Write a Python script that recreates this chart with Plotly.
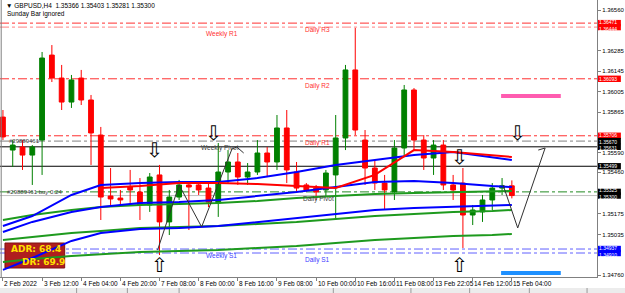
import plotly.graph_objects as go

# ---------------- data ----------------
bar_idx = list(range(53))
opens = [1.35833,1.35609,1.35630,1.35575,1.35677,1.36254,1.36098,1.35935,1.36098,1.35949,
         1.35711,1.35297,1.35283,1.35358,1.35324,1.35236,1.35440,1.35121,1.35290,1.35372,
         1.35372,1.35351,1.35250,1.35460,1.35528,1.35426,1.35460,1.35589,1.35528,1.35759,
         1.35460,1.35372,1.35351,1.35338,1.35440,1.35691,1.36153,1.35677,1.35487,1.35385,
         1.35324,1.35623,1.36017,1.35677,1.35555,1.35643,1.35372,1.35385,1.35168,1.35189,
         1.35270,1.35351,1.35366]
highs = [1.35881,1.35677,1.35677,1.35643,1.36275,1.36322,1.36187,1.36119,1.36153,1.35983,
         1.35766,1.35487,1.35338,1.35474,1.35419,1.35453,1.35508,1.35338,1.35406,1.35392,
         1.35385,1.35385,1.35657,1.35609,1.35589,1.35521,1.35677,1.35630,1.35847,1.35881,
         1.35528,1.35385,1.35372,1.35474,1.35847,1.36187,1.36438,1.35745,1.35541,1.35440,
         1.35677,1.36051,1.36030,1.35711,1.35677,1.35677,1.35440,1.35487,1.35236,1.35304,
         1.35385,1.35419,1.35403]
lows = [1.35677,1.35494,1.35474,1.35372,1.35440,1.36071,1.35881,1.35895,1.35915,1.35508,
        1.35134,1.35236,1.35236,1.35250,1.35134,1.35189,1.34896,1.35032,1.35270,1.35066,
        1.35304,1.35222,1.35155,1.35385,1.35372,1.35372,1.35440,1.35426,1.35474,1.35385,
        1.35324,1.35324,1.35270,1.35290,1.35134,1.35609,1.35711,1.35372,1.35338,1.35202,
        1.35270,1.35575,1.35609,1.35474,1.35440,1.35338,1.35270,1.34944,1.35100,1.35121,
        1.35202,1.35304,1.35281]
closes = [1.35698,1.35643,1.35575,1.35630,1.36234,1.36098,1.35935,1.36085,1.35949,1.35725,
          1.35290,1.35277,1.35270,1.35338,1.35236,1.35426,1.35121,1.35290,1.35372,1.35358,
          1.35338,1.35256,1.35460,1.35528,1.35426,1.35460,1.35589,1.35528,1.35759,1.35474,
          1.35351,1.35338,1.35324,1.35453,1.35691,1.36153,1.35745,1.35487,1.35385,1.35338,
          1.35623,1.36017,1.35677,1.35555,1.35643,1.35372,1.35338,1.35168,1.35202,1.35270,
          1.35351,1.35366,1.35300]

tick_idx = [0,4,8,12,16,20,24,28,32,36,40,44,48,52]
tick_text = ["2 Feb 2022","3 Feb 12:00","4 Feb 04:00","4 Feb 20:00","7 Feb 08:00",
             "8 Feb 00:00","8 Feb 16:00","9 Feb 08:00","10 Feb 00:00","10 Feb 16:00",
             "11 Feb 08:00","13 Feb 22:05","14 Feb 12:00","15 Feb 04:00"]
price_ticks = [1.34760,1.35035,1.35175,1.35460,1.35590,1.35865,1.36005,1.36145,1.36285,1.36560]

# indicator lines sampled at a few bars
ma_idx = [0,3,7,10,14,18,22,26,30,34,38,42,46,50,52]
blue_upper = [1.35093,1.35161,1.35304,1.35372,1.35385,1.35392,1.35392,1.35419,1.35460,1.35508,1.35541,1.35575,1.35596,1.35562,1.35541]
blue_mid = [1.35053,1.35121,1.35189,1.35222,1.35250,1.35256,1.35270,1.35297,1.35324,1.35358,1.35392,1.35399,1.35385,1.35365,1.35358]
blue_low = [1.34795,1.34876,1.34992,1.35046,1.35073,1.35080,1.35093,1.35121,1.35148,1.35175,1.35202,1.35216,1.35222,1.35229,1.35236]
green_upper = [1.35134,1.35168,1.35202,1.35222,1.35236,1.35243,1.35250,1.35263,1.35283,1.35297,1.35311,1.35317,1.35324,1.35331,1.35331]
green_mid = [1.34998,1.35019,1.35046,1.35059,1.35080,1.35087,1.35093,1.35107,1.35121,1.35141,1.35161,1.35175,1.35189,1.35195,1.35202]
green_low = [1.34849,1.34869,1.34890,1.34903,1.34917,1.34924,1.34930,1.34944,1.34958,1.34978,1.34998,1.35012,1.35026,1.35032,1.35039]
red_idx = [10,14,18,22,26,30,34,38,42,46,50,52]
red_line = [1.35351,1.35365,1.35385,1.35385,1.35378,1.35365,1.35351,1.35440,1.35609,1.35596,1.35575,1.35562]

# hand-drawn projection lines
zz1_x = [15.8,18.0,20.3,23.4,23.9,24.6]
zz1_y = [1.34930,1.35372,1.35087,1.35616,1.35630,1.35589]
zz2_x = [51.1,52.6,55.4,54.7]
zz2_y = [1.35372,1.35080,1.35623,1.35609]

# levels: (price, color, dash, width)
levels = [
    (1.36471, "#FF3030", "dashdot", 1),
    (1.36444, "#FF8080", "dashdot", 1),
    (1.36093, "#FF3030", "dashdot", 1),
    (1.35706, "#FF3030", "dashdot", 1),
    (1.35670, "#808080", "dashdot", 1),
    (1.35631, "#000000", "solid", 1),
    (1.35499, "#000000", "solid", 1),
    (1.35325, "#228B22", "dashdot", 1),
    (1.35300, "#C0C0C0", "solid", 1),
    (1.34937, "#6060FF", "dashdot", 1),
    (1.34910, "#6060FF", "dashdot", 1),
]
# price-axis boxes: (price, colour); texts of neighbouring prices are grouped
box_prices = [1.36471, 1.36444, 1.36093, 1.35706, 1.35670, 1.35631, 1.35499, 1.35325, 1.35300, 1.34937, 1.34910]
box_colors = ["#FF0000", "#FF0000", "#FF0000", "#FF0000", "#000000", "#000000", "#000000", "#000000", "#000000", "#0000FF", "#0000FF"]
box_groups = [[1.36471, 1.36444], [1.36093], [1.35706, 1.35670, 1.35631], [1.35499], [1.35325, 1.35300], [1.34937, 1.34910]]

level_labels = [
    ("Daily R3", 30.7, 1.36471, "#FF3030"),
    ("Weekly R1", 20.5, 1.36444, "#FF3030"),
    ("Daily R2", 30.7, 1.36093, "#FF3030"),
    ("Daily R1", 30.7, 1.35706, "#FF3030"),
    ("Weekly Pivot", 20.0, 1.35670, "#404040"),
    ("Daily Pivot", 30.5, 1.35325, "#404040"),
    ("Weekly S1", 20.5, 1.34937, "#4040FF"),
    ("Daily S1", 30.7, 1.34910, "#4040FF"),
]
down_arrows_x = [15.5, 21.5, 46.7, 52.6]
down_arrows_y = [1.35609, 1.35725, 1.35562, 1.35725]
up_arrows_x = [16.0, 46.7]
up_arrows_y = [1.34829, 1.34829]
adr_high = 1.35976
adr_low = 1.34774
adr_x = [50.9, 57.0]

# ---------------- figure ----------------
Y0, Y1 = 1.34747, 1.36628
PLOT_H = 277.0
px_price = (Y1 - Y0) / PLOT_H   # price per pixel (for box half height)

fig = go.Figure()

for y_vals, col, w in [(green_low, "#1E9A1E", 2), (green_mid, "#1E9A1E", 2), (green_upper, "#1E9A1E", 2),
                       (blue_low, "#0000FF", 2), (blue_mid, "#0000FF", 2), (blue_upper, "#0000FF", 2)]:
    fig.add_trace(go.Scatter(x=ma_idx, y=y_vals, mode="lines", line=dict(color=col, width=w), hoverinfo="skip"))
fig.add_trace(go.Scatter(x=red_idx, y=red_line, mode="lines", line=dict(color="#FF0000", width=2), hoverinfo="skip"))

fig.add_trace(go.Candlestick(
    x=bar_idx, open=opens, high=highs, low=lows, close=closes,
    increasing=dict(line=dict(color="#008000", width=1), fillcolor="#008000"),
    decreasing=dict(line=dict(color="#FF0000", width=1), fillcolor="#FF0000"),
    whiskerwidth=0, hoverinfo="skip"))

fig.add_trace(go.Scatter(x=zz1_x, y=zz1_y, mode="lines", line=dict(color="#303030", width=1), hoverinfo="skip"))
fig.add_trace(go.Scatter(x=zz2_x, y=zz2_y, mode="lines", line=dict(color="#303030", width=1), hoverinfo="skip"))

fig.add_trace(go.Scatter(x=adr_x, y=[adr_high, adr_high], mode="lines", line=dict(color="#FF5CB0", width=4), hoverinfo="skip"))
fig.add_trace(go.Scatter(x=adr_x, y=[adr_low, adr_low], mode="lines", line=dict(color="#1E90FF", width=4), hoverinfo="skip"))

shapes = []
for p, col, dash, w in levels:
    shapes.append(dict(type="line", xref="paper", x0=0, x1=1, yref="y", y0=p, y1=p,
                       line=dict(color=col, width=w, dash=dash), layer="below"))
# coloured price boxes on the axis
for p, col in zip(box_prices, box_colors):
    shapes.append(dict(type="rect", xref="paper", yref="y", x0=601/600, x1=624/600,
                       y0=p - 3.2 * px_price, y1=p + 3.2 * px_price, fillcolor=col,
                       line=dict(width=0), layer="above"))
# ADR box
shapes.append(dict(type="rect", xref="paper", yref="paper", x0=5/600, x1=65/600,
                   y0=(277-268)/277, y1=(277-243)/277, fillcolor="#B01E1E",
                   line=dict(color="#801010", width=1), layer="below"))
# left border
shapes.append(dict(type="line", xref="paper", yref="paper", x0=0.002, x1=0.002, y0=0, y1=1,
                   line=dict(color="#808080", width=1)))
# bottom tab strip
shapes.append(dict(type="rect", xref="paper", yref="paper", x0=-0.01, x1=1.05,
                   y0=(277-293)/277, y1=(277-288)/277, fillcolor="#ECECEC",
                   line=dict(color="#ECECEC", width=0)))
for tx in [77, 128, 180, 335, 413, 472, 532, 590]:
    shapes.append(dict(type="line", xref="paper", yref="paper", x0=tx/600, x1=tx/600,
                       y0=(277-293)/277, y1=(277-288)/277, line=dict(color="#9A9A9A", width=1)))

ann = []
font_small = dict(family="Liberation Sans, Arial, sans-serif", size=6.5, color="#000000")
ann.append(dict(xref="paper", yref="paper", x=4/600, y=(277-5)/277, xanchor="left", yanchor="middle",
                text="▼ GBPUSD,H4  1.35366 1.35403 1.35281 1.35300", showarrow=False, font=font_small))
ann.append(dict(xref="paper", yref="paper", x=5/600, y=(277-14)/277, xanchor="left", yanchor="middle",
                text="Sunday Bar ignored", showarrow=False, font=font_small))
ann.append(dict(xref="paper", yref="y", x=7/600, y=1.35670, xanchor="left", yanchor="middle",
                text="#29889461", showarrow=False, font=dict(family="Liberation Sans", size=6, color="#404040")))
ann.append(dict(xref="paper", yref="y", x=5/600, y=1.35325, xanchor="left", yanchor="middle",
                text="#29889461 buy 0.24", showarrow=False, font=dict(family="Liberation Sans", size=6, color="#404040")))
for t, xi, p, col in level_labels:
    ann.append(dict(xref="x", yref="y", x=xi, y=p, xanchor="left", yanchor="top", text=t, showarrow=False,
                    font=dict(family="Liberation Sans, Arial", size=6.5, color=col), yshift=-1))
for grp in box_groups:
    mid = sum(grp) / len(grp)
    ann.append(dict(xref="paper", yref="y", x=601.5/600, y=mid, xanchor="left", yanchor="middle",
                    text="<br>".join(f"{p:.5f}" for p in grp), showarrow=False, borderpad=0,
                    align="left", font=dict(family="Liberation Sans, Arial", size=5, color="#FFFFFF")))
for xi, t in zip(tick_idx, tick_text):
    ann.append(dict(xref="x", yref="paper", x=xi - 0.05, y=(277-283)/277, xanchor="left", yanchor="middle",
                    text=t, showarrow=False, font=font_small))
for xa, ya in zip(down_arrows_x, down_arrows_y):
    ann.append(dict(xref="x", yref="y", x=xa, y=ya, text="⇩", showarrow=False,
                    font=dict(family="DejaVu Sans", size=20, color="#000000")))
for xa, ya in zip(up_arrows_x, up_arrows_y):
    ann.append(dict(xref="x", yref="y", x=xa, y=ya, text="⇧", showarrow=False,
                    font=dict(family="DejaVu Sans", size=20, color="#000000")))
ann.append(dict(xref="paper", yref="paper", x=9/600, y=(277-249)/277, xanchor="left", yanchor="middle",
                text="<b>ADR: 68.4</b>", showarrow=False, font=dict(family="DejaVu Sans", size=9, color="#FFE000")))
ann.append(dict(xref="paper", yref="paper", x=20/600, y=(277-262)/277, xanchor="left", yanchor="middle",
                text="<b>DR: 69.9</b>", showarrow=False, font=dict(family="DejaVu Sans", size=9, color="#FFE000")))

fig.update_layout(
    width=625, height=293, margin=dict(l=0, r=25, t=0, b=16),
    paper_bgcolor="#FFFFFF", plot_bgcolor="#FFFFFF", showlegend=False,
    shapes=shapes, annotations=ann,
    xaxis=dict(range=[-0.3, 60.7], tickmode="array", tickvals=tick_idx, showticklabels=False,
               showgrid=False, zeroline=False, showline=True, linecolor="#808080", linewidth=1,
               ticks="outside", ticklen=3, tickcolor="#808080",
               rangeslider=dict(visible=False), fixedrange=True),
    yaxis=dict(range=[Y0, Y1], side="right", tickmode="array", tickvals=price_ticks,
               ticktext=[f"{v:.5f}" for v in price_ticks], showgrid=False, zeroline=False,
               showline=True, linecolor="#808080", linewidth=1, ticks="outside", ticklen=3,
               tickcolor="#808080", tickfont=dict(family="Liberation Sans, Arial", size=6, color="#000000"),
               fixedrange=True),
)

fig.write_html("out.html")
